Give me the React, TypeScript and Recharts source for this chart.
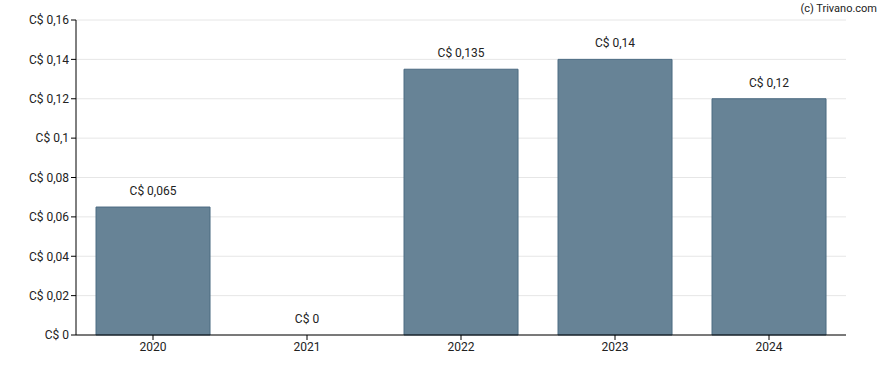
import React from 'react';
import { BarChart, Bar, XAxis, YAxis, CartesianGrid, LabelList, ReferenceDot } from 'recharts';

const years = ['2020', '2021', '2022', '2023', '2024'];
const dividends = [0.065, 0, 0.135, 0.14, 0.12];
const yTicks = [0, 0.02, 0.04, 0.06, 0.08, 0.1, 0.12, 0.14, 0.16];

const data = years.map((y, i) => ({ year: y, value: dividends[i] }));

const fmt = (v: number) => 'C$ ' + String(v).replace('.', ',');

export default function App() {
  return (
    <div style={{ position: 'absolute', left: 0, top: 0, width: 888, height: 370, fontFamily: 'Roboto, sans-serif' }}>
      <BarChart width={888} height={370} data={data} margin={{ top: 20, right: 42, bottom: 0, left: 0 }} barCategoryGap="13%">
        <CartesianGrid horizontal vertical={false} stroke="#e6e6e6" />
        <XAxis
          dataKey="year"
          height={35}
          axisLine={{ stroke: '#000' }}
          tickLine={{ stroke: '#000' }}
          tickSize={5}
          tick={{ fill: '#222', fontSize: 12 }}
        />
        <YAxis
          width={76}
          domain={[0, 0.16]}
          ticks={yTicks}
          tickFormatter={fmt}
          axisLine={{ stroke: '#000' }}
          tickLine={{ stroke: '#000' }}
          tickSize={5}
          tick={{ fill: '#222', fontSize: 12 }}
          interval={0}
        />
        <Bar dataKey="value" fill="#678396" stroke="#4b6a82" strokeWidth={1} isAnimationActive={false}>
          <LabelList dataKey="value" position="top" offset={12} formatter={(v: number) => (v === 0 ? '' : fmt(v))} style={{ fill: '#222', fontSize: 12 }} />
        </Bar>
        {data.filter((d) => d.value === 0).map((d) => (
          <ReferenceDot
            key={d.year}
            x={d.year}
            y={d.value}
            r={0}
            fill="none"
            stroke="none"
            ifOverflow="visible"
            label={{ value: fmt(d.value), position: 'top', offset: 12, fill: '#222', fontSize: 12 }}
          />
        ))}
        <text x={877} y={12} textAnchor="end" fontSize={11} fill="#222" fontFamily="Roboto, sans-serif">(c) Trivano.com</text>
      </BarChart>
    </div>
  );
}
